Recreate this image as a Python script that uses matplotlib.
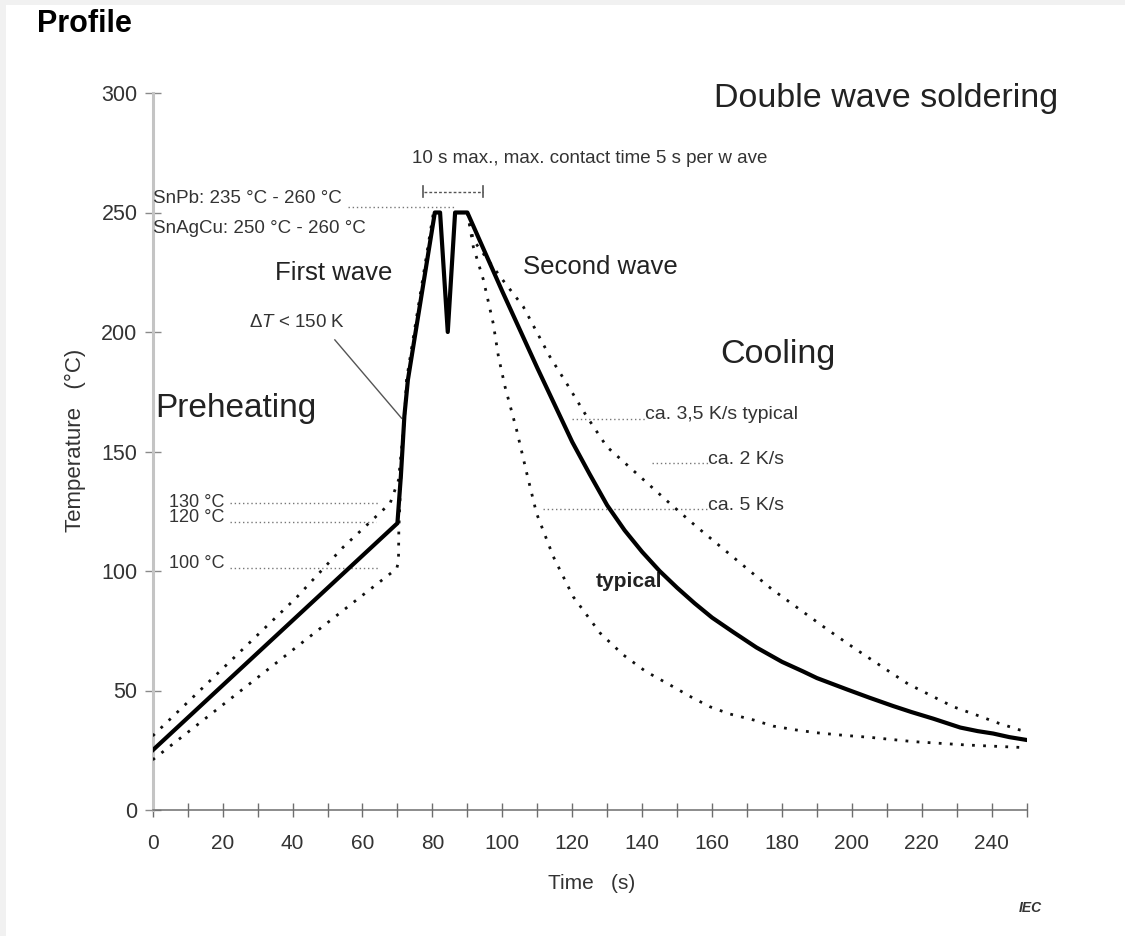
import matplotlib.pyplot as plt
import matplotlib.patches as mpatches
import numpy as np

plt.rcParams['font.family'] = ['Liberation Sans', 'DejaVu Sans']
plt.rcParams['mathtext.fontset'] = 'custom'
plt.rcParams['mathtext.rm'] = 'Liberation Sans'
plt.rcParams['mathtext.it'] = 'Liberation Sans:italic'

# typical profile (thick solid line), time in s / temperature in degC
typ_t = [0, 70, 71, 72, 73, 80.7, 82.2, 84.4, 86.5, 90, 95, 100, 105, 110, 115,
         120, 125, 130, 135, 140, 145, 150, 155, 160, 166, 172.7, 180, 186, 190, 198.5,
         205, 211.8, 217, 223.3, 231, 236, 240.4, 245, 250]
typ_T = [25, 120, 140, 165, 180, 250, 250, 200, 250, 250, 233.5, 217, 201, 185, 169.5,
         154, 140.5, 127.5, 117, 108, 100, 93, 86.5, 80.5, 74.5, 68, 62, 58, 55.2, 50.5,
         47, 43.5, 41, 38.2, 34.5, 33, 32, 30.5, 29.3]

# upper preheat limit (dotted)
pre_hi_t = [0, 41.2, 54.5, 67.9, 70.3, 72, 72.6, 80.3]
pre_hi_T = [31, 89, 110, 128.3, 138, 163, 180, 250]

# lower preheat limit (dotted)
pre_lo_t = [0, 58.4, 69.8, 70.3, 70.4, 71]
pre_lo_T = [21, 88, 101, 104, 117, 140]

# slow cooling, ca. 2 K/s (dotted)
cool_slow_t = [90, 91.7, 100, 106, 113.6, 118.4, 124, 129.9, 139.4, 148.9, 155.6, 163,
               170, 177, 185, 193, 201.4, 210, 216, 223.3, 229, 235.7, 242, 248, 250]
cool_slow_T = [250, 238.5, 222, 210.6, 189.7, 178.5, 165, 152, 139.5, 127, 118.5, 109.5,
               101, 92.5, 84, 75.5, 67, 58.6, 52.8, 47.4, 43.2, 39.7, 36.3, 33.5, 33]

# fast cooling, ca. 5 K/s (dotted)
cool_fast_t = [90, 91.7, 94.6, 97.4, 98.9, 100.8, 104.1, 107, 109.8, 114.6, 120.3, 128,
               134.6, 141, 148, 154, 159.4, 165, 171.8, 177.5, 184, 190, 198, 205.2,
               217.6, 232.8, 248, 250]
cool_fast_T = [250, 235.7, 221.8, 203.6, 189.7, 177, 159, 140.9, 124.1, 106, 89.2, 74,
               64.9, 58, 52.3, 47.3, 43.2, 40.2, 37.7, 35.1, 33.5, 32.3, 31.2, 30.4,
               28.6, 27.2, 26.2, 26]

# reference levels
ref_labels = ['130 °C', '120 °C', '100 °C']
ref_text_y = [128.8, 122.5, 103.0]
ref_line_y = [128.6, 120.6, 101.1]
ref_x0 = [22.1, 22.1, 22.1]
ref_x1 = [65, 64, 65]

rate_labels = ['ca. 3,5 K/s typical', 'ca. 2 K/s', 'ca. 5 K/s']
rate_text_x = [140.8, 158.9, 158.9]
rate_line_y = [163.8, 145.3, 126.0]
rate_x0 = [119.8, 142.7, 111.7]

fig = plt.figure(figsize=(11.25, 9.36), dpi=100, facecolor='#f1f1f1')
fig.patches.append(mpatches.Rectangle((6 / 1125, 0), 1119 / 1125, 931 / 936,
                                      transform=fig.transFigure, facecolor='white',
                                      edgecolor='none', zorder=-10))
ax = fig.add_axes([152.7 / 1125, 126 / 936, 874 / 1125, 717 / 936])
ax.set_facecolor('none')

dot = (0, (1, 3))
ax.plot(pre_hi_t, pre_hi_T, color='#111', lw=2, linestyle=dot, zorder=3)
ax.plot(pre_lo_t, pre_lo_T, color='#111', lw=2, linestyle=dot, zorder=3)
ax.plot(cool_slow_t, cool_slow_T, color='#111', lw=2, linestyle=dot, zorder=3)
ax.plot(cool_fast_t, cool_fast_T, color='#111', lw=2, linestyle=dot, zorder=3)
ax.plot(typ_t, typ_T, color='black', lw=3, solid_joinstyle='round', zorder=4)

ax.set_xlim(0, 250)
ax.set_ylim(0, 300)
ax.spines['top'].set_visible(False)
ax.spines['right'].set_visible(False)
ax.spines['left'].set_color('#c4c4c4')
ax.spines['left'].set_linewidth(2.2)
ax.spines['bottom'].set_color('#6e6e6e')
ax.spines['bottom'].set_linewidth(1.1)

ax.set_xticks(np.arange(0, 241, 20))
ax.set_xticks(np.arange(10, 251, 20), minor=True)
ax.set_yticks(np.arange(0, 301, 50))
ax.tick_params(axis='x', which='both', direction='inout', length=10, width=1,
               color='#6e6e6e', pad=12, labelsize=15, labelcolor='#333')
ax.tick_params(axis='y', direction='inout', length=12, width=1, color='#8a8a8a',
               pad=5, labelsize=15.5, labelcolor='#333')

ax.text(-0.088, 0.516, 'Temperature   (°C)', transform=ax.transAxes, rotation=90,
        ha='center', va='center', fontsize=16, color='#333')
ax.text(0.502, -0.089, 'Time   (s)', transform=ax.transAxes, ha='center', va='top',
        fontsize=15, color='#333')

# big region labels
ax.text(209.8, 297.5, 'Double wave soldering', ha='center', va='center', fontsize=24.5, color='#222')
ax.text(178.9, 190.4, 'Cooling', ha='center', va='center', fontsize=24.5, color='#222')
ax.text(23.9, 168.2, 'Preheating', ha='center', va='center', fontsize=24, color='#222')
ax.text(51.9, 224.7, 'First wave', ha='center', va='center', fontsize=18.5, color='#222')
ax.text(128, 227.2, 'Second wave', ha='center', va='center', fontsize=18.5, color='#222')
ax.text(136.3, 95.4, 'typical', ha='center', va='center', fontsize=15, fontweight='bold',
        color='#222', zorder=2)

# peak temperature notes
ax.text(0.1, 256, 'SnPb: 235 °C - 260 °C', ha='left', va='center', fontsize=13.5, color='#333')
ax.text(0.1, 243.5, 'SnAgCu: 250 °C - 260 °C', ha='left', va='center', fontsize=13.5, color='#333')
ax.plot([56, 86.5], [252.4, 252.4], color='#777', lw=1, linestyle=(0, (1, 2)))

ax.text(125, 272.8, '10 s max., max. contact time 5 s per w ave', ha='center', va='center',
        fontsize=13.5, color='#333')
ax.plot([77.5, 94.4], [258.6, 258.6], color='#555', lw=1, linestyle=(0, (2, 1.5)))
ax.plot([77.3, 77.3], [256.3, 261.2], color='#555', lw=1.2)
ax.plot([94.6, 94.6], [256.3, 261.2], color='#555', lw=1.2)

# delta T note
ax.text(41.3, 203.8, r'$\Delta T$ < 150 K', ha='center', va='center', fontsize=13.5, color='#333')
ax.plot([52.1, 71.2], [196.7, 163.9], color='#555', lw=1)

for lab, ty, ly, x0, x1 in zip(ref_labels, ref_text_y, ref_line_y, ref_x0, ref_x1):
    ax.text(4.6, ty, lab, ha='left', va='center', fontsize=13, color='#333')
    ax.plot([x0, x1], [ly, ly], color='#777', lw=1, linestyle=(0, (1, 2)), zorder=2)

for lab, tx, ly, x0 in zip(rate_labels, rate_text_x, rate_line_y, rate_x0):
    ax.text(tx, ly + 1.5, lab, ha='left', va='center', fontsize=14, color='#333')
    ax.plot([x0, tx], [ly, ly], color='#777', lw=1, linestyle=(0, (1, 2)), zorder=2)

fig.text(37 / 1125, 1 - 24 / 936, 'Profile', ha='left', va='center', fontsize=22,
         fontweight='bold', color='black')
fig.text(1030 / 1125, 1 - 908 / 936, 'IEC', ha='center', va='center', fontsize=10,
         fontweight='bold', fontstyle='italic', color='#333')

fig.savefig('out.png', dpi=100, facecolor=fig.get_facecolor())
